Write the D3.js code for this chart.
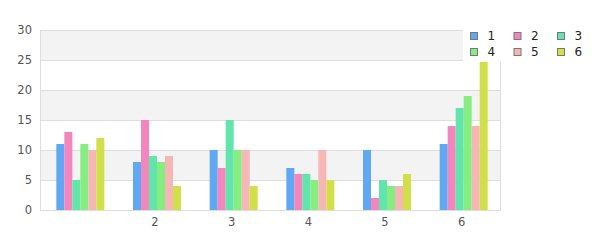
<!DOCTYPE html>
<html><head><meta charset="utf-8">
<script src="https://cdn.jsdelivr.net/npm/d3@7"></script>
<style>body{margin:0;background:#fff}svg{display:block;font-family:"DejaVu Sans",sans-serif}</style>
</head><body><svg id="c" width="600" height="250"></svg>
<script>
const categories = ["1","2","3","4","5","6"];
const seriesNames = ["1","2","3","4","5","6"];
const s1 = [11, 8, 10, 7, 10, 11];
const s2 = [13, 15, 7, 6, 2, 14];
const s3 = [5, 9, 15, 6, 5, 17];
const s4 = [11, 8, 10, 5, 4, 19];
const s5 = [10, 9, 10, 10, 4, 14];
const s6 = [12, 4, 4, 5, 6, 27];
const xTickLabels = ["", "2", "3", "4", "5", "6"];
const yTicks = [0, 5, 10, 15, 20, 25, 30];
const colors = ["#61a8f4", "#f386bc", "#62e4ad", "#86ed80", "#f7b6b6", "#d1df49"];
const series = [s1, s2, s3, s4, s5, s6];

const svg = d3.select("#c");
const L = 40, R = 500, T = 30, B = 210;
const x = d3.scaleBand().domain(categories).range([L, R]);
const y = d3.scaleLinear().domain([0, 30]).range([B, T]);
const bw = 8;

// bands
const g = svg.append("g");
for (let i = 0; i < yTicks.length - 1; i++) {
  const v0 = yTicks[i], v1 = yTicks[i + 1];
  if (i % 2 === 1) g.append("rect").attr("x", L).attr("width", R - L)
    .attr("y", y(v1)).attr("height", y(v0) - y(v1)).attr("fill", "#f3f3f3");
}
yTicks.forEach(v => g.append("line").attr("x1", L).attr("x2", R).attr("y1", y(v) + 0.5).attr("y2", y(v) + 0.5)
  .attr("stroke", "#dedede"));
g.append("line").attr("x1", L + 0.5).attr("x2", L + 0.5).attr("y1", T).attr("y2", B).attr("stroke", "#dedede");
g.append("line").attr("x1", R + 0.5).attr("x2", R + 0.5).attr("y1", T).attr("y2", B + 1).attr("stroke", "#dedede");

// bars
const bars = svg.append("g");
categories.forEach((c, ci) => {
  const cx = x(c) + x.bandwidth() / 2 + 2;
  series.forEach((s, si) => {
    bars.append("rect")
      .attr("x", cx - 3 * bw + si * bw).attr("width", bw)
      .attr("y", y(s[ci])).attr("height", y(0) - y(s[ci]))
      .attr("fill", colors[si]);
  });
});

// axes text
const yAxis = d3.axisLeft(y).tickValues(yTicks).tickSize(0).tickPadding(8);
const ya = svg.append("g").attr("transform", `translate(${L},0)`).call(yAxis);
ya.select(".domain").remove();
ya.selectAll("text").attr("fill", "#555").attr("font-size", 11.5).attr("font-family", '"DejaVu Sans",sans-serif');

const xAxis = d3.axisBottom(x).tickSize(0).tickPadding(8).tickFormat((d, i) => xTickLabels[i]);
const xa = svg.append("g").attr("transform", `translate(0,${B})`).call(xAxis);
xa.select(".domain").remove();
xa.selectAll("text").attr("fill", "#555").attr("font-size", 11.5).attr("font-family", '"DejaVu Sans",sans-serif');

// legend
const lg = svg.append("g");
lg.append("rect").attr("x", 463).attr("y", 22).attr("width", 137).attr("height", 40).attr("fill", "#fff");
seriesNames.forEach((n, i) => {
  const col = i % 3, row = Math.floor(i / 3);
  const lx = 470.5 + col * 43.5, ly = 32.5 + row * 16;
  lg.append("rect").attr("x", lx).attr("y", ly).attr("width", 7).attr("height", 7)
    .attr("fill", colors[i]).attr("stroke", "#777").attr("stroke-width", 1);
  lg.append("text").attr("x", lx + 17).attr("y", ly + 7.5).text(n)
    .attr("fill", "#222").attr("font-size", 12);
});
</script></body></html>
